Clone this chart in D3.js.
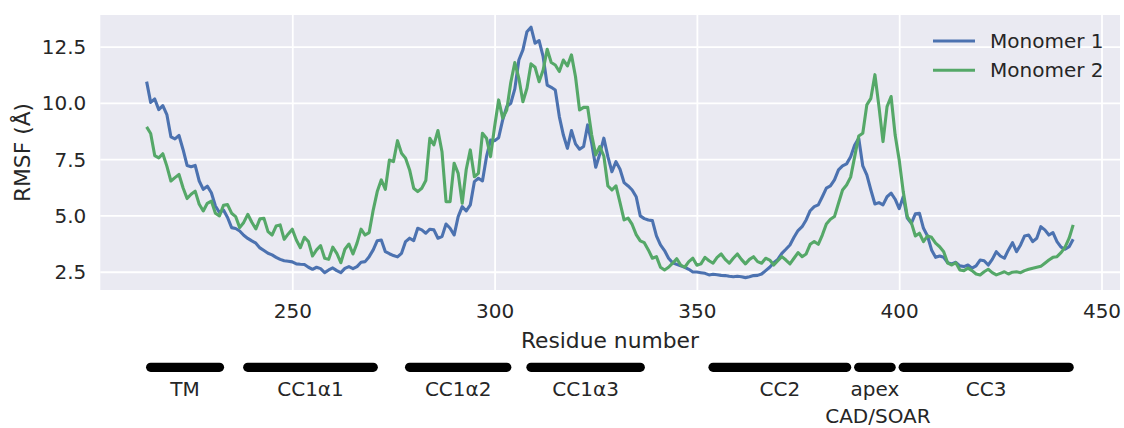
<!DOCTYPE html>
<html>
<head>
<meta charset="utf-8">
<script src="https://cdn.jsdelivr.net/npm/d3@7"></script>
<style>
  body { margin: 0; background: #ffffff; }
  text { font-family: "DejaVu Sans", sans-serif; fill: #262626; }
</style>
</head>
<body>
<div id="chart"></div>
<script>

// Residue numbers on the x axis
var firstResidue = 214;
var lastResidue = 443;

// RMSF values (Å), one per residue from 214 to 443
var monomer1 = [
  10.94, 10.02, 10.17, 9.70, 9.88, 9.48, 8.49, 8.40, 8.55, 7.93,
  7.22, 7.16, 7.22, 6.53, 6.16, 6.30, 6.01, 5.42, 5.13, 5.24,
  4.91, 4.46, 4.42, 4.31, 4.12, 3.98, 3.87, 3.77, 3.56, 3.44,
  3.32, 3.25, 3.14, 3.05, 2.99, 2.97, 2.94, 2.85, 2.83, 2.82,
  2.70, 2.61, 2.70, 2.64, 2.46, 2.58, 2.67, 2.55, 2.46, 2.65,
  2.73, 2.64, 2.73, 2.92, 2.95, 3.17, 3.47, 3.88, 3.91, 3.39,
  3.30, 3.22, 3.16, 3.32, 3.84, 3.99, 3.88, 4.43, 4.36, 4.21,
  4.39, 4.36, 3.99, 4.06, 4.62, 4.43, 4.13, 4.95, 5.39, 5.20,
  5.47, 6.50, 6.65, 6.53, 7.61, 8.35, 8.32, 8.45, 9.24, 9.83,
  9.98, 10.62, 11.90, 12.35, 13.16, 13.36, 12.65, 12.76, 12.05, 10.79,
  10.69, 10.57, 9.39, 8.57, 7.98, 8.77, 8.18, 7.94, 8.06, 9.02,
  8.21, 7.14, 7.73, 8.43, 7.61, 6.94, 7.39, 7.05, 6.46, 6.31,
  6.13, 5.83, 4.98, 4.86, 4.80, 4.77, 4.09, 3.69, 3.44, 3.10,
  2.90, 2.83, 2.76, 2.70, 2.61, 2.49, 2.49, 2.46, 2.43, 2.36,
  2.39, 2.37, 2.34, 2.33, 2.30, 2.28, 2.30, 2.28, 2.24, 2.28,
  2.33, 2.34, 2.40, 2.55, 2.70, 2.90, 3.05, 3.32, 3.50, 3.69,
  4.03, 4.33, 4.50, 4.80, 5.21, 5.39, 5.47, 5.83, 6.21, 6.31,
  6.58, 7.02, 7.20, 7.29, 7.61, 8.13, 8.43, 7.20, 6.80, 6.13,
  5.51, 5.57, 5.47, 5.83, 5.99, 5.72, 5.30, 5.83, 4.88, 4.65,
  5.07, 5.10, 4.43, 4.09, 3.47, 3.14, 3.20, 3.14, 2.90, 2.85,
  2.92, 2.76, 2.73, 2.80, 2.66, 2.76, 3.02, 2.99, 2.80, 3.05,
  3.39, 3.20, 3.10, 3.47, 3.79, 3.39, 3.69, 4.09, 4.13, 3.84,
  3.99, 4.50, 4.36, 4.13, 4.24, 3.84, 3.59, 3.50, 3.61, 3.94
];

var monomer2 = [
  8.93, 8.64, 7.66, 7.56, 7.74, 7.19, 6.53, 6.68, 6.82, 6.23,
  5.75, 5.94, 6.08, 5.50, 5.20, 5.54, 5.64, 5.10, 4.98, 5.45,
  5.48, 5.10, 4.95, 4.46, 4.69, 5.05, 4.70, 4.40, 4.85, 4.87,
  4.28, 4.13, 4.53, 4.58, 3.94, 4.18, 4.39, 3.91, 3.57, 4.03,
  3.84, 3.20, 3.47, 3.66, 3.10, 3.05, 3.59, 3.32, 2.90, 3.50,
  3.73, 3.29, 3.77, 4.39, 4.13, 4.24, 5.24, 6.06, 6.58, 6.16,
  7.46, 7.39, 8.32, 7.76, 7.54, 7.02, 6.21, 6.06, 6.21, 6.55,
  8.43, 8.13, 8.77, 7.83, 5.61, 5.61, 7.32, 6.87, 5.54, 7.05,
  7.91, 6.72, 6.87, 8.65, 8.43, 7.61, 8.94, 10.13, 9.32, 9.68,
  10.90, 11.79, 11.09, 10.05, 10.65, 11.73, 11.58, 10.94, 11.46, 12.38,
  11.79, 11.68, 11.39, 11.90, 11.64, 12.13, 11.16, 9.68, 9.80, 9.80,
  8.57, 7.69, 8.06, 7.64, 6.31, 6.13, 6.31, 5.57, 4.80, 4.88,
  4.60, 4.15, 3.87, 3.79, 3.47, 3.10, 3.17, 2.70, 2.58, 2.70,
  2.88, 3.08, 2.80, 2.70, 2.95, 3.10, 2.79, 2.85, 3.14, 2.99,
  2.88, 3.14, 3.29, 3.05, 2.88, 3.10, 3.29, 3.05, 2.85, 3.05,
  3.17, 2.95, 2.88, 3.10, 3.02, 2.80, 2.99, 3.17, 3.02, 2.85,
  3.10, 3.35, 3.17, 3.29, 3.72, 3.84, 3.72, 4.13, 4.62, 4.83,
  4.95, 5.54, 6.13, 6.35, 6.70, 7.61, 8.53, 8.65, 9.91, 10.20,
  11.25, 9.83, 8.28, 9.83, 10.28, 8.57, 7.46, 6.06, 4.95, 4.68,
  4.09, 4.21, 3.84, 4.09, 4.03, 3.77, 3.61, 3.39, 2.88, 2.80,
  2.90, 2.58, 2.55, 2.66, 2.55, 2.40, 2.36, 2.50, 2.61, 2.46,
  2.36, 2.43, 2.50, 2.40, 2.48, 2.50, 2.46, 2.55, 2.61, 2.66,
  2.70, 2.74, 2.88, 3.02, 3.14, 3.17, 3.35, 3.59, 3.99, 4.58
];

var seriesNames = ["Monomer 1", "Monomer 2"];

// Axis ticks
var xTicks = [250, 300, 350, 400, 450];
var yTicks = [2.5, 5.0, 7.5, 10.0, 12.5];

// Domain bars under the axis (first and last residue of each)
var domainNames = ["TM", "CC1α1", "CC1α2", "CC1α3", "CC2", "apex", "CC3"];
var domainStarts = [215, 239, 279, 309, 354, 390, 401];
var domainEnds = [232, 270, 303, 336, 387, 398, 442];
var domainSubNames = ["", "", "", "", "", "CAD/SOAR", ""];

// Build the rows for the lines
var residues = d3.range(firstResidue, lastResidue + 1);
var series = seriesNames.map(function(name, i) {
  var values = i === 0 ? monomer1 : monomer2;
  return residues.map(function(r, j) { return { residue: r, rmsf: values[j] }; });
});

var colors = ["#4C72B0", "#55A868"];

var svgWidth = 1124;
var svgHeight = 428;

var plot = { left: 100.3, right: 1120, top: 15, bottom: 290 };

var svg = d3.select("#chart")
  .append("svg")
  .attr("width", svgWidth)
  .attr("height", svgHeight);

// scales (x limits follow the matplotlib 5% margin around the data)
var xScale = d3.scaleLinear()
  .domain([202.55, 454.45])
  .range([plot.left, 1119.5]);

var yScale = d3.scaleLinear()
  .domain([1.69, 13.9])
  .range([plot.bottom, plot.top]);

// background
svg.append("rect")
  .attr("x", plot.left)
  .attr("y", plot.top)
  .attr("width", plot.right - plot.left)
  .attr("height", plot.bottom - plot.top)
  .attr("fill", "#EAEAF2");

// grid lines
var xAxis = d3.axisBottom(xScale)
  .tickValues(xTicks)
  .tickSize(-(plot.bottom - plot.top))
  .tickPadding(14)
  .tickFormat(d3.format("d"));

var yAxis = d3.axisLeft(yScale)
  .tickValues(yTicks)
  .tickSize(-(plot.right - plot.left))
  .tickPadding(14)
  .tickFormat(d3.format(".1f"));

var xAxisGroup = svg.append("g")
  .attr("transform", `translate(0, ${plot.bottom})`)
  .call(xAxis);

var yAxisGroup = svg.append("g")
  .attr("transform", `translate(${plot.left}, 0)`)
  .call(yAxis);

[xAxisGroup, yAxisGroup].forEach(function(g) {
  g.select(".domain").remove();
  g.selectAll(".tick line")
    .attr("stroke", "#ffffff")
    .attr("stroke-width", 1.8);
  g.selectAll(".tick text")
    .style("font-size", "20px")
    .attr("fill", "#262626");
});

yAxisGroup.selectAll(".tick text").attr("dy", "0.35em");

// lines
var line = d3.line()
  .x(d => xScale(d.residue))
  .y(d => yScale(d.rmsf));

svg.append("g")
  .selectAll("path")
  .data(series)
  .enter()
  .append("path")
  .attr("d", line)
  .attr("fill", "none")
  .attr("stroke", (d, i) => colors[i])
  .attr("stroke-width", 3.1)
  .attr("stroke-linejoin", "round");

// axis labels
svg.append("text")
  .attr("text-anchor", "middle")
  .attr("x", (plot.left + 1119.5) / 2)
  .attr("y", 348)
  .style("font-size", "21.8px")
  .text("Residue number");

svg.append("text")
  .attr("text-anchor", "middle")
  .attr("transform", "rotate(-90)")
  .attr("x", -(plot.top + plot.bottom) / 2)
  .attr("y", 30)
  .style("font-size", "21.8px")
  .text("RMSF (Å)");

// legend
var legend = svg.append("g")
  .selectAll("g")
  .data(seriesNames)
  .enter()
  .append("g")
  .attr("transform", (d, i) => `translate(933, ${41 + i * 29.3})`);

legend.append("line")
  .attr("x1", 0)
  .attr("x2", 42)
  .attr("stroke", (d, i) => colors[i])
  .attr("stroke-width", 3.1);

legend.append("text")
  .attr("x", 57)
  .attr("dy", "0.35em")
  .style("font-size", "20px")
  .text(d => d);

// domain bars
var barY = 367.3;

svg.append("g")
  .selectAll("line")
  .data(domainNames)
  .enter()
  .append("line")
  .attr("x1", (d, i) => xScale(domainStarts[i]))
  .attr("x2", (d, i) => xScale(domainEnds[i]))
  .attr("y1", barY)
  .attr("y2", barY)
  .attr("stroke", "#000000")
  .attr("stroke-width", 9.3)
  .attr("stroke-linecap", "round");

svg.append("g")
  .selectAll("text")
  .data(domainNames)
  .enter()
  .append("text")
  .attr("text-anchor", "middle")
  .attr("x", (d, i) => xScale((domainStarts[i] + domainEnds[i]) / 2))
  .attr("y", 388.5)
  .attr("dy", "0.35em")
  .style("font-size", "20px")
  .text(d => d);

svg.append("g")
  .selectAll("text")
  .data(domainSubNames)
  .enter()
  .append("text")
  .attr("text-anchor", "middle")
  .attr("x", (d, i) => xScale((domainStarts[i] + domainEnds[i]) / 2) + 3)
  .attr("y", 415.5)
  .attr("dy", "0.35em")
  .style("font-size", "20px")
  .text(d => d);

</script>
</body>
</html>
